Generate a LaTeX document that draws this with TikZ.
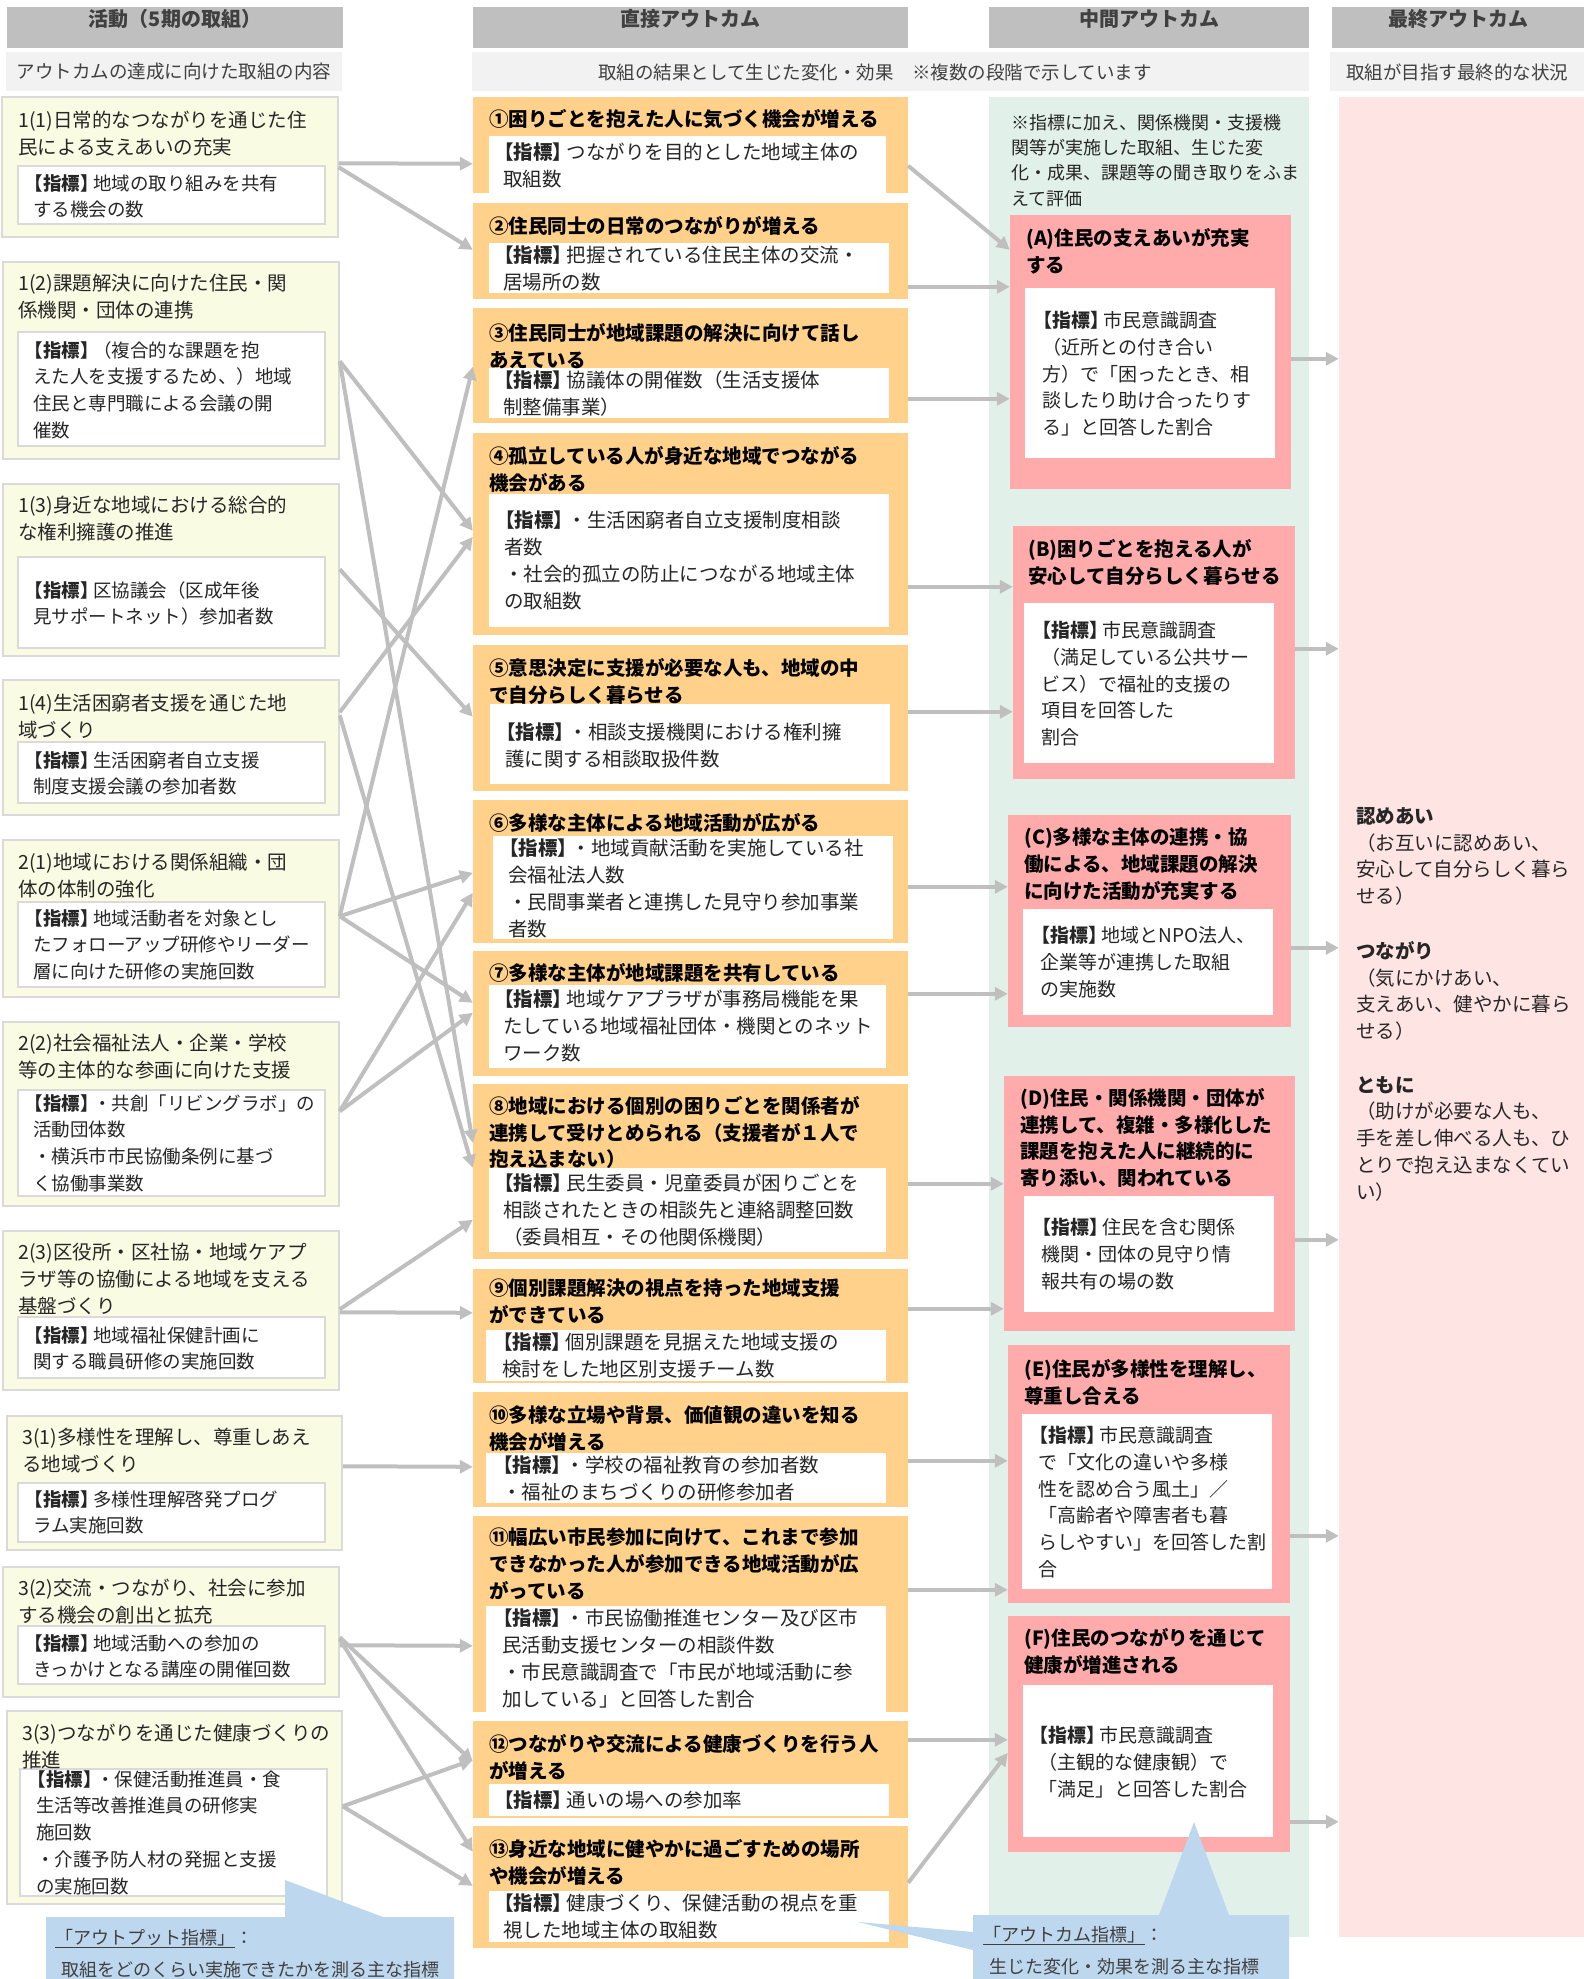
\documentclass[tikz,border=0pt]{standalone}
\usepackage{fontspec}
\setmainfont{Noto Sans CJK JP}
\usetikzlibrary{arrows.meta,fit}

\definecolor{hdrgray}{HTML}{BFBFBF}
\definecolor{subgray}{HTML}{F2F2F2}
\definecolor{txtgray}{HTML}{404040}
\definecolor{bodytxt}{HTML}{262626}
\definecolor{actfill}{HTML}{F9FCE3}
\definecolor{actline}{HTML}{DADADA}
\definecolor{dirfill}{HTML}{FFD18B}
\definecolor{midpanel}{HTML}{E2F0EA}
\definecolor{midfill}{HTML}{FFABAB}
\definecolor{finpanel}{HTML}{FFE4E4}
\definecolor{callblue}{HTML}{BDD7EE}
\definecolor{arrowgray}{HTML}{BFBFBF}

\newcommand{\fsbody}{\fontsize{19.5}{26.8}\selectfont}
\newcommand{\fsin}{\fontsize{18.5}{26.8}\selectfont}
\newcommand{\fsmid}{\fontsize{19}{26.8}\selectfont}
\newcommand{\fsnote}{\fontsize{18}{25.3}\selectfont}
\newcommand{\fshead}{\fontsize{20}{24}\selectfont}
\newcommand{\fssub}{\fontsize{18.5}{22}\selectfont}
\newcommand{\fscall}{\fontsize{18}{32}\selectfont}
\newcommand{\shihyo}{\hspace*{-0.45em}\textbf{【指標】}\hspace*{-0.3em}}

\tikzset{
  hdr/.style={fill=hdrgray, inner sep=0pt, text=txtgray, font=\fshead\bfseries},
  subhdr/.style={fill=subgray, inner sep=0pt},
  actbox/.style={fill=actfill, draw=actline, line width=1.5pt, inner sep=0pt},
  actin/.style={fill=white, draw=actline, line width=1.2pt, inner sep=0pt},
  dirbox/.style={fill=dirfill, inner sep=0pt},
  midbox/.style={fill=midfill, inner sep=0pt},
  whitein/.style={fill=white, inner sep=0pt},
  tx/.style={anchor=north west, inner sep=0pt, align=left, yshift=9pt, font=\fsbody, text=bodytxt},
  txin/.style={tx, font=\fsin},
  txmid/.style={tx, font=\fsmid},
  ttl/.style={tx, font=\fsbody\bfseries, text=black},
  arr/.style={draw=arrowgray, line width=4pt, -{Triangle[length=13pt,width=13pt]}},
  callbl/.style={fill=callblue, draw=none}
}

\begin{document}
\begin{tikzpicture}[x=1pt, y=-1pt]
			%%%%% START %%%%%
			\useasboundingbox (0,0) rectangle (1584,1979);
			
			% panels
			\node[fill=midpanel, inner sep=0pt, fit={(989,97) (1309,1937)}] (midp) {};
			\node[fill=finpanel, inner sep=0pt, fit={(1339,97) (1584,1937)}] (fin) {};
			
			% headers
			\node[hdr, fit={(7,7) (343,48)}] (h1) {活動（5期の取組）};
			\node[hdr, fit={(473,7) (908,48)}] (h2) {直接アウトカム};
			\node[hdr, fit={(989,7) (1309,48)}] (h3) {中間アウトカム};
			\node[hdr, fit={(1332,7) (1584,48)}] (h4) {最終アウトカム};
			\node[subhdr, fit={(6,52) (342,91)}] (s1) {};
			\node[subhdr, fit={(472,52) (1309,91)}] (s2) {};
			\node[subhdr, fit={(1330,52) (1584,91)}] (s3) {};
			\node[inner sep=0pt, font=\fssub, text=txtgray] (s1tx) at (174,72) {アウトカムの達成に向けた取組の内容};
			\node[inner sep=0pt, font=\fssub, text=txtgray] (s2tx) at (875,72) {取組の結果として生じた変化・効果　※複数の段階で示しています};
			\node[inner sep=0pt, font=\fssub, text=txtgray] (s3tx) at (1457,72) {取組が目指す最終的な状況};
			
			%%%%% ACTIVITIES %%%%%
			\node[actbox, fit={(2,97) (338,237)}] (a11) {};
			\node[actin, fit={(18,166) (325,224)}] (a11in) {};
			\node[tx] (a11ti) at (18,120) {1(1)日常的なつながりを通じた住\\民による支えあいの充実};
			\node[txin] (a11tx) at (33,183) {\shihyo 地域の取り組みを共有\\する機会の数};
			
			\node[actbox, fit={(3,262) (339,459)}] (a12) {};
			\node[actin, fit={(18,332) (325,446)}] (a12in) {};
			\node[tx] (a12ti) at (18,283) {1(2)課題解決に向けた住民・関\\係機関・団体の連携};
			\node[txin] (a12tx) at (33,350) {\shihyo（複合的な課題を抱\\えた人を支援するため、）地域\\住民と専門職による会議の開\\催数};
			
			\node[actbox, fit={(3,484) (339,656)}] (a13) {};
			\node[actin, fit={(18,557) (325,648)}] (a13in) {};
			\node[tx] (a13ti) at (18,505) {1(3)身近な地域における総合的\\な権利擁護の推進};
			\node[txin] (a13tx) at (33,590) {\shihyo 区協議会（区成年後\\見サポートネット）参加者数};
			
			\node[actbox, fit={(3,680) (339,815)}] (a14) {};
			\node[actin, fit={(18,742) (325,803)}] (a14in) {};
			\node[tx] (a14ti) at (18,703) {1(4)生活困窮者支援を通じた地\\域づくり};
			\node[txin] (a14tx) at (33,760) {\shihyo 生活困窮者自立支援\\制度支援会議の参加者数};
			
			\node[actbox, fit={(3,840) (339,997)}] (a21) {};
			\node[actin, fit={(18,902) (325,987)}] (a21in) {};
			\node[tx] (a21ti) at (18,862) {2(1)地域における関係組織・団\\体の体制の強化};
			\node[txin] (a21tx) at (33,918) {\shihyo 地域活動者を対象とし\\たフォローアップ研修やリーダー\\層に向けた研修の実施回数};
			
			\node[actbox, fit={(3,1022) (339,1206)}] (a22) {};
			\node[actin, fit={(18,1090) (325,1196)}] (a22in) {};
			\node[tx] (a22ti) at (18,1043) {2(2)社会福祉法人・企業・学校\\等の主体的な参画に向けた支援};
			\node[txin] (a22tx) at (33,1103) {\shihyo・共創「リビングラボ」の\\活動団体数\\・横浜市市民協働条例に基づ\\く協働事業数};
			
			\node[actbox, fit={(3,1231) (339,1390)}] (a23) {};
			\node[actin, fit={(18,1317) (325,1378)}] (a23in) {};
			\node[tx] (a23ti) at (18,1252) {2(3)区役所・区社協・地域ケアプ\\ラザ等の協働による地域を支える\\基盤づくり};
			\node[txin] (a23tx) at (33,1335) {\shihyo 地域福祉保健計画に\\関する職員研修の実施回数};
			
			\node[actbox, fit={(7,1416) (342,1550)}] (a31) {};
			\node[actin, fit={(18,1483) (325,1542)}] (a31in) {};
			\node[tx] (a31ti) at (22,1437) {3(1)多様性を理解し、尊重しあえ\\る地域づくり};
			\node[txin] (a31tx) at (33,1499) {\shihyo 多様性理解啓発プログ\\ラム実施回数};
			
			\node[actbox, fit={(3,1567) (339,1697)}] (a32) {};
			\node[actin, fit={(18,1626) (325,1684)}] (a32in) {};
			\node[tx] (a32ti) at (18,1588) {3(2)交流・つながり、社会に参加\\する機会の創出と拡充};
			\node[txin] (a32tx) at (33,1643) {\shihyo 地域活動への参加の\\きっかけとなる講座の開催回数};
			
			\node[actbox, fit={(7,1711) (342,1904)}] (a33) {};
			\node[actin, fit={(20,1769) (327,1896)}] (a33in) {};
			\node[tx] (a33ti) at (22,1733) {3(3)つながりを通じた健康づくりの\\推進};
			\node[txin] (a33tx) at (36,1779) {\shihyo・保健活動推進員・食\\生活等改善推進員の研修実\\施回数\\・介護予防人材の発掘と支援\\の実施回数};
			
			%%%%% DIRECT OUTCOMES %%%%%
			\node[dirbox, fit={(473,97) (908,193)}] (o1) {};
			\node[whitein, fit={(489,136) (886,193)}] (o1in) {};
			\node[ttl] (o1ti) at (489,118) {①困りごとを抱えた人に気づく機会が増える};
			\node[tx] (o1tx) at (503,152) {\shihyo つながりを目的とした地域主体の\\取組数};
			
			\node[dirbox, fit={(473,203) (908,299)}] (o2) {};
			\node[whitein, fit={(489,243) (889,293)}] (o2in) {};
			\node[ttl] (o2ti) at (489,225) {②住民同士の日常のつながりが増える};
			\node[tx] (o2tx) at (503,255) {\shihyo 把握されている住民主体の交流・\\居場所の数};
			
			\node[dirbox, fit={(473,308) (908,423)}] (o3) {};
			\node[whitein, fit={(489,368) (889,418)}] (o3in) {};
			\node[ttl] (o3ti) at (489,332) {③住民同士が地域課題の解決に向けて話し\\あえている};
			\node[tx] (o3tx) at (503,380) {\shihyo 協議体の開催数（生活支援体\\制整備事業）};
			
			\node[dirbox, fit={(473,433) (908,635)}] (o4) {};
			\node[whitein, fit={(489,494) (889,627)}] (o4in) {};
			\node[ttl] (o4ti) at (489,455) {④孤立している人が身近な地域でつながる\\機会がある};
			\node[tx] (o4tx) at (504,520) {\shihyo・生活困窮者自立支援制度相談\\者数\\・社会的孤立の防止につながる地域主体\\の取組数};
			
			\node[dirbox, fit={(473,645) (908,791)}] (o5) {};
			\node[whitein, fit={(490,704) (890,784)}] (o5in) {};
			\node[ttl] (o5ti) at (489,667) {⑤意思決定に支援が必要な人も、地域の中\\で自分らしく暮らせる};
			\node[tx] (o5tx) at (505,732) {\shihyo・相談支援機関における権利擁\\護に関する相談取扱件数};
			
			\node[dirbox, fit={(473,800) (908,943)}] (o6) {};
			\node[whitein, fit={(493,836) (893,939)}] (o6in) {};
			\node[ttl] (o6ti) at (489,822) {⑥多様な主体による地域活動が広がる};
			\node[tx] (o6tx) at (508,848) {\shihyo・地域貢献活動を実施している社\\会福祉法人数\\・民間事業者と連携した見守り参加事業\\者数};
			
			\node[dirbox, fit={(473,951) (908,1076)}] (o7) {};
			\node[whitein, fit={(489,985) (886,1068)}] (o7in) {};
			\node[ttl] (o7ti) at (489,972) {⑦多様な主体が地域課題を共有している};
			\node[tx] (o7tx) at (503,999) {\shihyo 地域ケアプラザが事務局機能を果\\たしている地域福祉団体・機関とのネット\\ワーク数};
			
			\node[dirbox, fit={(473,1084) (908,1259)}] (o8) {};
			\node[whitein, fit={(489,1168) (886,1252)}] (o8in) {};
			\node[ttl] (o8ti) at (489,1105) {⑧地域における個別の困りごとを関係者が\\連携して受けとめられる（支援者が１人で\\抱え込まない）};
			\node[tx] (o8tx) at (503,1183) {\shihyo 民生委員・児童委員が困りごとを\\相談されたときの相談先と連絡調整回数\\（委員相互・その他関係機関）};
			
			\node[dirbox, fit={(473,1269) (908,1383)}] (o9) {};
			\node[whitein, fit={(486,1330) (886,1381)}] (o9in) {};
			\node[ttl] (o9ti) at (489,1288) {⑨個別課題解決の視点を持った地域支援\\ができている};
			\node[tx] (o9tx) at (502,1342) {\shihyo 個別課題を見据えた地域支援の\\検討をした地区別支援チーム数};
			
			\node[dirbox, fit={(473,1392) (908,1507)}] (o10) {};
			\node[whitein, fit={(486,1453) (886,1503)}] (o10in) {};
			\node[ttl] (o10ti) at (489,1415) {⑩多様な立場や背景、価値観の違いを知る\\機会が増える};
			\node[tx] (o10tx) at (502,1465) {\shihyo・学校の福祉教育の参加者数\\・福祉のまちづくりの研修参加者};
			
			\node[dirbox, fit={(473,1516) (908,1712)}] (o11) {};
			\node[whitein, fit={(486,1606) (886,1712)}] (o11in) {};
			\node[ttl] (o11ti) at (489,1537) {⑪幅広い市民参加に向けて、これまで参加\\できなかった人が参加できる地域活動が広\\がっている};
			\node[tx] (o11tx) at (502,1618) {\shihyo・市民協働推進センター及び区市\\民活動支援センターの相談件数\\・市民意識調査で「市民が地域活動に参\\加している」と回答した割合};
			
			\node[dirbox, fit={(473,1721) (908,1818)}] (o12) {};
			\node[whitein, fit={(489,1784) (889,1816)}] (o12in) {};
			\node[ttl] (o12ti) at (489,1743) {⑫つながりや交流による健康づくりを行う人\\が増える};
			\node[tx] (o12tx) at (503,1800) {\shihyo 通いの場への参加率};
			
			\node[dirbox, fit={(473,1826) (908,1948)}] (o13) {};
			\node[whitein, fit={(489,1891) (889,1942)}] (o13in) {};
			\node[ttl] (o13ti) at (489,1848) {⑬身近な地域に健やかに過ごすための場所\\や機会が増える};
			\node[tx] (o13tx) at (503,1903) {\shihyo 健康づくり、保健活動の視点を重\\視した地域主体の取組数};
			
			%%%%% MIDDLE OUTCOMES %%%%%
			\node[tx, font=\fsnote] (mnote) at (1011,123) {※指標に加え、関係機関・支援機\\関等が実施した取組、生じた変\\化・成果、課題等の聞き取りをふま\\えて評価};
			
			\node[midbox, fit={(1010,215) (1291,489)}] (mA) {};
			\node[whitein, fit={(1025,288) (1275,458)}] (mAin) {};
			\node[ttl] (mAti) at (1026,237) {(A)住民の支えあいが充実\\する};
			\node[txmid] (mAtx) at (1042,320) {\shihyo 市民意識調査\\（近所との付き合い\\方）で「困ったとき、相\\談したり助け合ったりす\\る」と回答した割合};
			
			\node[midbox, fit={(1013,526) (1295,779)}] (mB) {};
			\node[whitein, fit={(1024,603) (1274,763)}] (mBin) {};
			\node[ttl] (mBti) at (1028,548) {(B)困りごとを抱える人が\\安心して自分らしく暮らせる};
			\node[txmid] (mBtx) at (1041,630) {\shihyo 市民意識調査\\（満足している公共サー\\ビス）で福祉的支援の\\項目を回答した\\割合};
			
			\node[midbox, fit={(1008,815) (1291,1027)}] (mC) {};
			\node[whitein, fit={(1023,909) (1273,1015)}] (mCin) {};
			\node[ttl] (mCti) at (1024,837) {(C)多様な主体の連携・協\\働による、地域課題の解決\\に向けた活動が充実する};
			\node[txmid] (mCtx) at (1040,935) {\shihyo 地域とNPO法人、\\企業等が連携した取組\\の実施数};
			
			\node[midbox, fit={(1004,1076) (1295,1331)}] (mD) {};
			\node[whitein, fit={(1024,1196) (1274,1312)}] (mDin) {};
			\node[ttl] (mDti) at (1020,1097) {(D)住民・関係機関・団体が\\連携して、複雑・多様化した\\課題を抱えた人に継続的に\\寄り添い、関われている};
			\node[txmid] (mDtx) at (1041,1227) {\shihyo 住民を含む関係\\機関・団体の見守り情\\報共有の場の数};
			
			\node[midbox, fit={(1008,1345) (1290,1603)}] (mE) {};
			\node[whitein, fit={(1022,1414) (1272,1589)}] (mEin) {};
			\node[ttl] (mEti) at (1024,1368) {(E)住民が多様性を理解し、\\尊重し合える};
			\node[txmid] (mEtx) at (1038,1435) {\shihyo 市民意識調査\\で「文化の違いや多様\\性を認め合う風土」／\\「高齢者や障害者も暮\\らしやすい」を回答した割\\合};
			
			\node[midbox, fit={(1008,1616) (1290,1852)}] (mF) {};
			\node[whitein, fit={(1023,1685) (1273,1837)}] (mFin) {};
			\node[ttl] (mFti) at (1024,1637) {(F)住民のつながりを通じて\\健康が増進される};
			\node[txmid] (mFtx) at (1038,1735) {\shihyo 市民意識調査\\（主観的な健康観）で\\「満足」と回答した割合};
			
			%%%%% FINAL OUTCOMES %%%%%
			\node[tx] (f1) at (1356,816) {\textbf{認めあい}\\（お互いに認めあい、\\安心して自分らしく暮ら\\せる）};
			\node[tx] (f2) at (1356,950) {\textbf{つながり}\\（気にかけあい、\\支えあい、健やかに暮ら\\せる）};
			\node[tx] (f3) at (1356,1085) {\textbf{ともに}\\（助けが必要な人も、\\手を差し伸べる人も、ひ\\とりで抱え込まなくてい\\い）};
			
			%%%%% ARROWS activities -> direct %%%%%
			\draw[arr] ([yshift=-67pt]a11.north east) -- ([yshift=-67pt]o1.north west);
			\draw[arr] ([yshift=-71pt]a11.north east) -- ([yshift=-47pt]o2.north west);
			\draw[arr] ([yshift=-100pt]a12.north east) -- ([yshift=-98pt]o4.north west);
			\draw[arr] ([yshift=-100pt]a12.north east) -- ([yshift=-59pt]o8.north west);
			\draw[arr] ([yshift=-86pt]a13.north east) -- ([yshift=-72pt]o5.north west);
			\draw[arr] ([yshift=-33pt]a14.north east) -- ([yshift=-104pt]o4.north west);
			\draw[arr] ([yshift=-36pt]a14.north east) -- ([yshift=-84pt]o8.north west);
			\draw[arr] ([yshift=-77pt]a21.north east) -- ([yshift=-59pt]o3.north west);
			\draw[arr] ([yshift=-77pt]a21.north east) -- ([yshift=-73pt]o6.north west);
			\draw[arr] ([yshift=-77pt]a21.north east) -- ([yshift=-52pt]o7.north west);
			\draw[arr] ([yshift=-90pt]a22.north east) -- ([yshift=-93pt]o6.north west);
			\draw[arr] ([yshift=-90pt]a22.north east) -- ([yshift=-62pt]o7.north west);
			\draw[arr] ([yshift=-79pt]a23.north east) -- ([yshift=-136pt]o8.north west);
			\draw[arr] ([yshift=-82pt]a23.north east) -- ([yshift=-44pt]o9.north west);
			\draw[arr] ([yshift=-51pt]a31.north east) -- ([yshift=-75pt]o10.north west);
			\draw[arr] ([yshift=-79pt]a32.north east) -- ([yshift=-130pt]o11.north west);
			\draw[arr] ([yshift=-71pt]a32.north east) -- ([yshift=-41pt]o12.north west);
			\draw[arr] ([yshift=-73pt]a32.north east) -- ([yshift=-26pt]o13.north west);
			\draw[arr] ([yshift=-96pt]a33.north east) -- ([yshift=-39pt]o12.north west);
			\draw[arr] ([yshift=-96pt]a33.north east) -- ([yshift=-60pt]o13.north west);
			
			%%%%% ARROWS direct -> middle %%%%%
			\draw[arr] ([yshift=-69pt]o1.north east) -- ([yshift=-35pt]mA.north west);
			\draw[arr] ([yshift=-84pt]o2.north east) -- ([yshift=-72pt]mA.north west);
			\draw[arr] ([yshift=-91pt]o3.north east) -- ([yshift=-184pt]mA.north west);
			\draw[arr] ([yshift=-154pt]o4.north east) -- ([yshift=-61pt]mB.north west);
			\draw[arr] ([yshift=-67pt]o5.north east) -- ([yshift=-186pt]mB.north west);
			\draw[arr] ([yshift=-87pt]o6.north east) -- ([yshift=-72pt]mC.north west);
			\draw[arr] ([yshift=-43pt]o7.north east) -- ([yshift=-179pt]mC.north west);
			\draw[arr] ([yshift=-100pt]o8.north east) -- ([yshift=-108pt]mD.north west);
			\draw[arr] ([yshift=-40pt]o9.north east) -- ([yshift=-233pt]mD.north west);
			\draw[arr] ([yshift=-69pt]o10.north east) -- ([yshift=-116pt]mE.north west);
			\draw[arr] ([yshift=-74pt]o11.north east) -- ([yshift=-245pt]mE.north west);
			\draw[arr] ([yshift=-19pt]o12.north east) -- ([yshift=-124pt]mF.north west);
			\draw[arr] ([yshift=-57pt]o13.north east) -- ([yshift=-137pt]mF.north west);
			
			%%%%% ARROWS middle -> final %%%%%
			\draw[arr] ([yshift=-144pt]mA.north east) -- ([yshift=-262pt]fin.north west);
			\draw[arr] ([yshift=-123pt]mB.north east) -- ([yshift=-552pt]fin.north west);
			\draw[arr] ([yshift=-133pt]mC.north east) -- ([yshift=-851pt]fin.north west);
			\draw[arr] ([yshift=-164pt]mD.north east) -- ([yshift=-1143pt]fin.north west);
			\draw[arr] ([yshift=-191pt]mE.north east) -- ([yshift=-1439pt]fin.north west);
			\draw[arr] ([yshift=-206pt]mF.north east) -- ([yshift=-1725pt]fin.north west);
			
			%%%%% CALLOUTS %%%%%
			\fill[callbl] (46,1917) -- (285,1917) -- (285,1880) -- (383,1917) -- (454,1917) -- (454,1979) -- (46,1979) -- cycle;
			\node[tx, font=\fscall, text=txtgray] (cb1tx) at (55,1938) {\underline{「アウトプット指標」}：\\\hspace*{0.35em}取組をどのくらい実施できたかを測る主な指標};
			
			\fill[callbl] (973,1915) -- (1159,1915) -- (1194,1822) -- (1229,1915) -- (1289,1915) -- (1289,1979) -- (973,1979) -- (973,1950) -- (858,1922) -- (973,1932) -- cycle;
			\node[tx, font=\fscall, text=txtgray] (cb2tx) at (983,1935) {\underline{「アウトカム指標」}：\\\hspace*{0.35em}生じた変化・効果を測る主な指標};
			
			%%%%% END %%%%%
\end{tikzpicture}
\end{document}
